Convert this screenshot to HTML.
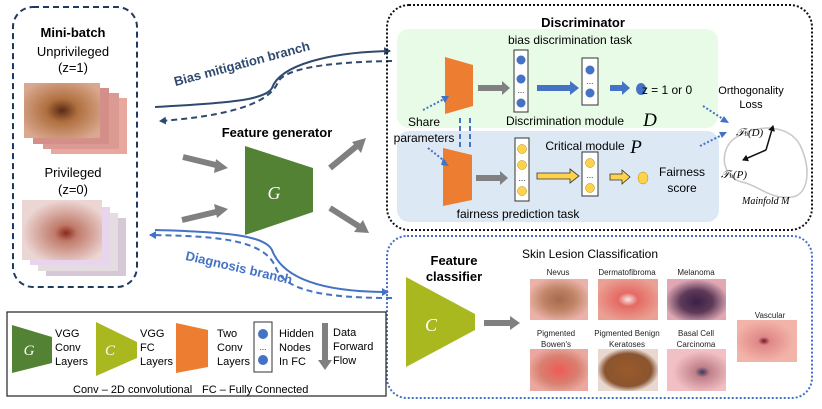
<!DOCTYPE html>
<html><head><meta charset="utf-8"><style>
html,body{margin:0;padding:0;background:#fff;}
svg{display:block;font-family:"Liberation Sans",sans-serif;}
</style></head><body>
<svg width="822" height="409" viewBox="0 0 822 409" xmlns="http://www.w3.org/2000/svg">
<defs>
<marker id="an" markerWidth="8" markerHeight="8" refX="6" refY="4" orient="auto" markerUnits="userSpaceOnUse"><path d="M0,0 L7,4 L0,8z" fill="#2f4a6e"/></marker>
<marker id="ab" markerWidth="8" markerHeight="8" refX="6" refY="4" orient="auto" markerUnits="userSpaceOnUse"><path d="M0,0 L7,4 L0,8z" fill="#4472c4"/></marker>
<marker id="ak" markerWidth="7" markerHeight="7" refX="5" refY="3.5" orient="auto" markerUnits="userSpaceOnUse"><path d="M0,0 L6,3.5 L0,7z" fill="#111"/></marker>
<radialGradient id="skin1" cx="50%" cy="50%" r="60%"><stop offset="0" stop-color="#5a2a14"/><stop offset="0.35" stop-color="#b0703f"/><stop offset="1" stop-color="#d9a88f"/></radialGradient>
<radialGradient id="skin2" cx="55%" cy="55%" r="55%"><stop offset="0" stop-color="#8a2a1c"/><stop offset="0.25" stop-color="#c07a6a"/><stop offset="1" stop-color="#ecd6d4"/></radialGradient>
<radialGradient id="nev" cx="50%" cy="50%" r="55%"><stop offset="0" stop-color="#a66a4c"/><stop offset="0.5" stop-color="#c08466"/><stop offset="1" stop-color="#eab2a8"/></radialGradient>
<radialGradient id="der" cx="50%" cy="50%" r="55%"><stop offset="0" stop-color="#f6e6e6"/><stop offset="0.3" stop-color="#e46a64"/><stop offset="1" stop-color="#eaa092"/></radialGradient>
<radialGradient id="mel" cx="50%" cy="55%" r="55%"><stop offset="0" stop-color="#3a2048"/><stop offset="0.5" stop-color="#5e3a58"/><stop offset="1" stop-color="#e0a8b4"/></radialGradient>
<radialGradient id="bow" cx="50%" cy="50%" r="55%"><stop offset="0" stop-color="#f05a58"/><stop offset="0.6" stop-color="#d88070"/><stop offset="1" stop-color="#eba8a0"/></radialGradient>
<radialGradient id="ker" cx="50%" cy="50%" r="52%"><stop offset="0" stop-color="#9a5a2a"/><stop offset="0.75" stop-color="#8a5530"/><stop offset="1" stop-color="#e8d8d0"/></radialGradient>
<radialGradient id="bcc" cx="60%" cy="55%" r="50%"><stop offset="0" stop-color="#3a3560"/><stop offset="0.25" stop-color="#c0808a"/><stop offset="1" stop-color="#f2c0c4"/></radialGradient>
<radialGradient id="vas" cx="45%" cy="50%" r="50%"><stop offset="0" stop-color="#701828"/><stop offset="0.2" stop-color="#e08888"/><stop offset="1" stop-color="#f2b4a8"/></radialGradient>
</defs>

<rect x="13" y="7" width="124" height="280" rx="20" fill="none" stroke="#1f3a5f" stroke-width="2" stroke-dasharray="6,4"/>
<text x="73" y="37" text-anchor="middle" font-size="13" font-weight="bold">Mini-batch</text>
<text x="73" y="56" text-anchor="middle" font-size="13">Unprivileged</text>
<text x="73" y="72" text-anchor="middle" font-size="13">(z=1)</text>
<rect x="51" y="98" width="76" height="56" fill="#e8a8a0"/>
<rect x="43" y="93" width="76" height="56" fill="#dc9a94"/>
<rect x="33" y="88" width="76" height="56" fill="#d49088"/>
<rect x="24" y="83" width="76" height="55" fill="url(#skin1)"/>
<text x="73" y="177" text-anchor="middle" font-size="13">Privileged</text>
<text x="73" y="194" text-anchor="middle" font-size="13">(z=0)</text>
<rect x="46" y="218" width="80" height="58" fill="#d6c8d6"/>
<rect x="38" y="213" width="80" height="58" fill="#e4dce0"/>
<rect x="30" y="207" width="80" height="58" fill="#e8d4ec"/>
<rect x="22" y="200" width="80" height="60" fill="url(#skin2)"/>

<path d="M155,107 C230,103 265,100 272,88 C280,65 330,52 390,51" fill="none" stroke="#2f4a6e" stroke-width="2" marker-end="url(#an)"/>
<path d="M392,61 C330,62 285,68 278,82 C270,103 230,116 160,121" fill="none" stroke="#2f4a6e" stroke-width="2" stroke-dasharray="6,4" marker-end="url(#an)"/>
<text transform="translate(243,68) rotate(-15)" text-anchor="middle" font-size="13" font-weight="bold" fill="#2f4a6e">Bias mitigation branch</text>
<path d="M155,230 C230,232 265,236 272,250 C285,285 340,292 388,292" fill="none" stroke="#4472c4" stroke-width="2" marker-end="url(#ab)"/>
<path d="M392,298 C330,298 285,292 276,268 C265,240 220,236 150,235" fill="none" stroke="#4472c4" stroke-width="2" stroke-dasharray="6,4" marker-end="url(#ab)"/>
<text transform="translate(238,272) rotate(13)" text-anchor="middle" font-size="13" font-weight="bold" fill="#4472c4">Diagnosis branch</text>

<text x="277" y="137" text-anchor="middle" font-size="13" font-weight="bold">Feature generator</text>
<polygon points="245,146 313,168 313,212 245,235" fill="#548235"/>
<text x="274" y="199" text-anchor="middle" font-size="18" font-style="italic" fill="#fff" font-family="Liberation Serif,serif">G</text>
<g stroke="#808080" stroke-width="6" fill="#808080">
<line x1="183" y1="157" x2="220" y2="166"/><line x1="182" y1="220" x2="220" y2="211"/>
<line x1="330" y1="168" x2="358" y2="145"/><line x1="330" y1="208" x2="360" y2="227"/>
</g>
<g fill="#808080">
<polygon points="228,168 216,159 214,173"/><polygon points="228,209 214,204 217,218"/>
<polygon points="366,138 352,142 361,153"/><polygon points="369,233 363,220 354,232"/>
</g>

<rect x="387" y="5" width="425" height="225" rx="22" fill="none" stroke="#111" stroke-width="2" stroke-dasharray="2,2"/>
<rect x="397" y="29" width="321" height="99" rx="12" fill="#e8fbe6"/>
<rect x="397" y="131" width="322" height="91" rx="12" fill="#dde8f5"/>
<text x="583" y="27" text-anchor="middle" font-size="13" font-weight="bold">Discriminator</text>
<text x="570" y="44" text-anchor="middle" font-size="12">bias discrimination task</text>
<polygon points="445,57 473,65 473,106 445,114" fill="#ed7d31"/>
<polygon points="443,148 472,155 472,200 443,206" fill="#ed7d31"/>
<line x1="460" y1="118" x2="460" y2="148" stroke="#4472c4" stroke-width="2" stroke-dasharray="5,3"/>
<line x1="470" y1="118" x2="470" y2="148" stroke="#4472c4" stroke-width="2" stroke-dasharray="5,3"/>
<text x="424" y="126" text-anchor="middle" font-size="12">Share</text>
<text x="424" y="142" text-anchor="middle" font-size="12">parameters</text>
<g stroke="#4472c4" stroke-width="2" stroke-dasharray="2,2" fill="none">
<line x1="423" y1="110" x2="446" y2="98"/><line x1="428" y1="148" x2="447" y2="163"/>
<line x1="703" y1="106" x2="726" y2="121"/><line x1="700" y1="146" x2="724" y2="134"/>
</g>
<g fill="#4472c4"><polygon points="449,96 441,96 445,103"/><polygon points="449,166 443,158 441,165"/><polygon points="729,123 720,122 724,116"/><polygon points="727,132 719,132 722,138"/></g>
<polygon points="478,85 502,85 502,81 510,88 502,95 502,91 478,91" fill="#808080"/>
<rect x="514" y="50" width="14" height="62" fill="#fff" stroke="#333" stroke-width="1"/>
<circle cx="521" cy="60" r="4.5" fill="#4472c4"/><circle cx="521" cy="79" r="4.5" fill="#4472c4"/><circle cx="521" cy="103" r="4.5" fill="#4472c4"/>
<text x="521" y="93" text-anchor="middle" font-size="8">...</text>
<polygon points="537,85 570,85 570,81 579,88 570,95 570,91 537,91" fill="#4472c4"/>
<rect x="582" y="58" width="16" height="47" fill="#fff" stroke="#333" stroke-width="1"/>
<circle cx="590" cy="70" r="4.5" fill="#4472c4"/><circle cx="590" cy="93" r="4.5" fill="#4472c4"/>
<text x="590" y="84" text-anchor="middle" font-size="8">...</text>
<polygon points="610,85 622,85 622,81 630,88 622,95 622,91 610,91" fill="#4472c4"/>
<ellipse cx="641" cy="89" rx="5" ry="6" fill="#4472c4"/>
<text x="667" y="94" text-anchor="middle" font-size="12">z = 1 or 0</text>
<text x="565" y="125" text-anchor="middle" font-size="12">Discrimination module</text>
<text x="650" y="126" text-anchor="middle" font-size="19" font-style="italic" font-family="Liberation Serif,serif">D</text>
<text x="585" y="150" text-anchor="middle" font-size="12">Critical module</text>
<text x="636" y="153" text-anchor="middle" font-size="19" font-style="italic" font-family="Liberation Serif,serif">P</text>
<polygon points="476,175 500,175 500,171 508,178 500,185 500,181 476,181" fill="#808080"/>
<rect x="515" y="138" width="14" height="63" fill="#fff" stroke="#333" stroke-width="1"/>
<circle cx="522" cy="149" r="4.5" fill="#ffd24d" stroke="#b08a00" stroke-width="0.5"/><circle cx="522" cy="165" r="4.5" fill="#ffd24d" stroke="#b08a00" stroke-width="0.5"/><circle cx="522" cy="191" r="4.5" fill="#ffd24d" stroke="#b08a00" stroke-width="0.5"/>
<text x="522" y="181" text-anchor="middle" font-size="8">...</text>
<polygon points="537,173 570,173 570,169 579,176 570,183 570,179 537,179" fill="#ffd24d" stroke="#333" stroke-width="0.8"/>
<rect x="582" y="152" width="16" height="44" fill="#fff" stroke="#333" stroke-width="1"/>
<circle cx="590" cy="163" r="4.5" fill="#ffd24d" stroke="#b08a00" stroke-width="0.5"/><circle cx="590" cy="188" r="4.5" fill="#ffd24d" stroke="#b08a00" stroke-width="0.5"/>
<text x="590" y="178" text-anchor="middle" font-size="8">...</text>
<polygon points="610,174 622,174 622,170 630,177 622,184 622,180 610,180" fill="#ffd24d" stroke="#333" stroke-width="0.8"/>
<ellipse cx="643" cy="178" rx="5" ry="6" fill="#ffd24d" stroke="#b08a00" stroke-width="0.5"/>
<text x="682" y="176" text-anchor="middle" font-size="12">Fairness</text>
<text x="682" y="192" text-anchor="middle" font-size="12">score</text>
<text x="518" y="218" text-anchor="middle" font-size="12">fairness prediction task</text>
<text x="751" y="94" text-anchor="middle" font-size="11">Orthogonality</text>
<text x="751" y="108" text-anchor="middle" font-size="11">Loss</text>
<path d="M735,138 C760,122 790,126 800,145 C812,170 808,195 792,197 C770,200 758,185 742,182 C722,178 718,150 735,138z" fill="none" stroke="#c8c8c8" stroke-width="1.5"/>
<line x1="766" y1="150" x2="773" y2="126" stroke="#111" stroke-width="1.5" marker-end="url(#ak)"/>
<line x1="766" y1="150" x2="743" y2="160" stroke="#111" stroke-width="1.5" marker-end="url(#ak)"/>
<text x="736" y="136" font-size="11" font-style="italic" font-family="Liberation Serif,serif">𝒯<tspan font-size="7">h</tspan>(D)</text>
<text x="721" y="178" font-size="11" font-style="italic" font-family="Liberation Serif,serif">𝒯<tspan font-size="7">h</tspan>(P)</text>
<text x="742" y="204" font-size="10" font-style="italic" font-family="Liberation Serif,serif">Mainfold M</text>

<rect x="387" y="236" width="425" height="162" rx="20" fill="none" stroke="#4472c4" stroke-width="2" stroke-dasharray="2,2"/>
<text x="454" y="265" text-anchor="middle" font-size="13" font-weight="bold">Feature</text>
<text x="454" y="281" text-anchor="middle" font-size="13" font-weight="bold">classifier</text>
<polygon points="406,277 475,314 475,330 406,367" fill="#a9b81f"/>
<text x="431" y="331" text-anchor="middle" font-size="18" font-style="italic" fill="#fff" font-family="Liberation Serif,serif">C</text>
<polygon points="484,320 510,320 510,316 520,323 510,330 510,326 484,326" fill="#808080"/>
<text x="590" y="258" text-anchor="middle" font-size="12">Skin Lesion Classification</text>
<g font-size="8" text-anchor="middle" fill="#222">
<text x="558" y="275">Nevus</text><text x="627" y="275">Dermatofibroma</text><text x="696" y="275">Melanoma</text>
<text x="556" y="336">Pigmented</text><text x="556" y="347">Bowen's</text>
<text x="627" y="336">Pigmented Benign</text><text x="627" y="347">Keratoses</text>
<text x="696" y="336">Basal Cell</text><text x="696" y="347">Carcinoma</text>
<text x="770" y="318">Vascular</text>
</g>
<rect x="530" y="279" width="58" height="41" fill="url(#nev)"/>
<rect x="598" y="279" width="60" height="41" fill="url(#der)"/>
<rect x="667" y="279" width="59" height="41" fill="url(#mel)"/>
<rect x="530" y="349" width="58" height="42" fill="url(#bow)"/>
<rect x="598" y="349" width="60" height="42" fill="url(#ker)"/>
<rect x="667" y="349" width="59" height="42" fill="url(#bcc)"/>
<rect x="737" y="320" width="60" height="42" fill="url(#vas)"/>

<rect x="7" y="312" width="379" height="84" fill="#fff" stroke="#222" stroke-width="1.2"/>
<polygon points="12,325 52,337 52,363 12,373" fill="#548235"/>
<text x="29" y="355" text-anchor="middle" font-size="15" font-style="italic" fill="#fff" font-family="Liberation Serif,serif">G</text>
<g font-size="11">
<text x="55" y="337">VGG</text><text x="55" y="351">Conv</text><text x="55" y="365">Layers</text>
<text x="140" y="337">VGG</text><text x="140" y="351">FC</text><text x="140" y="365">Layers</text>
<text x="217" y="337">Two</text><text x="217" y="351">Conv</text><text x="217" y="365">Layers</text>
<text x="279" y="337">Hidden</text><text x="279" y="351">Nodes</text><text x="279" y="365">In FC</text>
<text x="333" y="336">Data</text><text x="333" y="350">Forward</text><text x="333" y="364">Flow</text>
<text x="73" y="393">Conv – 2D convolutional</text><text x="202" y="393">FC – Fully Connected</text>
</g>
<polygon points="96,322 137,342 137,358 96,376" fill="#a9b81f"/>
<text x="110" y="355" text-anchor="middle" font-size="15" font-style="italic" fill="#fff" font-family="Liberation Serif,serif">C</text>
<polygon points="176,323 208,330 208,367 176,373" fill="#ed7d31"/>
<rect x="254" y="322" width="18" height="50" fill="#fff" stroke="#333" stroke-width="1"/>
<circle cx="263" cy="334" r="5" fill="#4472c4"/><circle cx="263" cy="360" r="5" fill="#4472c4"/>
<text x="263" y="350" text-anchor="middle" font-size="8">...</text>
<polygon points="322,323 328,323 328,360 332,360 325,370 318,360 322,360" fill="#808080"/>
</svg>
</body></html>
